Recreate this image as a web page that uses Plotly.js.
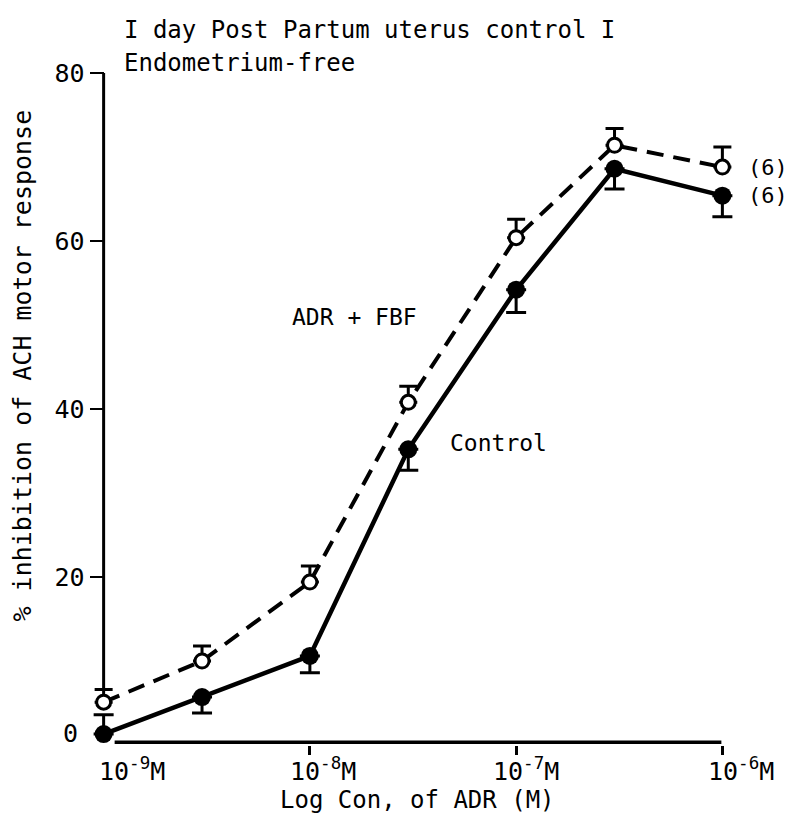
<!DOCTYPE html>
<html>
<head>
<meta charset="utf-8">
<script src="https://cdn.plot.ly/plotly-3.0.1.min.js"></script>
<style>html,body{margin:0;padding:0;background:#fff;}</style>
</head>
<body>
<div id="chart" style="width:790px;height:839px;"></div>
<script>
// Concentrations of ADR (M)
var concentrations = [1e-9, 3e-9, 1e-8, 3e-8, 1e-7, 3e-7, 1e-6];
// Control (filled circles)
var controlValues = [1.3, 5.7, 10.6, 35.2, 54.2, 68.6, 65.4];
var controlErrPlus = [2.3, 0, 0, 0, 0, 0, 0];
var controlErrMinus = [0, 1.9, 2.0, 2.5, 2.7, 2.4, 2.5];
// ADR + FBF (open circles)
var fbfValues = [5.1, 10.0, 19.4, 40.8, 60.4, 71.4, 68.8];
var fbfErrPlus = [1.5, 1.8, 1.9, 1.9, 2.2, 2.0, 2.4];
var fbfErrMinus = [0, 0, 0, 0, 0, 0, 0];
// Tick labels
var xTickExps = [-9, -8, -7, -6];
var xTickLabels = ['10<sup>-9</sup>M', '10<sup>-8</sup>M', '10<sup>-7</sup>M', '10<sup>-6</sup>M'];
var yTickVals = [20, 40, 60, 80];
var yTickLabels = ['20', '40', '60', '80'];
var yZeroLabel = '0';
var seriesLabels = ['ADR + FBF', 'Control'];
var nLabel = '(6)';
var titleLines = ['I day Post Partum uterus control I', 'Endometrium-free'];
var xTitle = 'Log Con, of ADR (M)';
var yTitle = '% inhibition of ACH motor response';

var FONT = '"DejaVu Sans Mono", "Liberation Mono", monospace';
var xLabelShift = [-7, -22, -25, -16];

var traces = [
  {
    x: concentrations, y: fbfValues, type: 'scatter', mode: 'lines+markers',
    name: seriesLabels[0], cliponaxis: false,
    line: {color: '#000', width: 4, dash: '17px,10px'},
    marker: {symbol: 'circle', size: 14, color: '#fff', line: {color: '#000', width: 3}},
    error_y: {type: 'data', symmetric: false, array: fbfErrPlus, arrayminus: fbfErrMinus,
              color: '#000', thickness: 3, width: 9}
  },
  {
    x: concentrations, y: controlValues, type: 'scatter', mode: 'lines+markers',
    name: seriesLabels[1], cliponaxis: false,
    line: {color: '#000', width: 4.5},
    marker: {symbol: 'circle', size: 18, color: '#000', line: {color: '#000', width: 0}},
    error_y: {type: 'data', symmetric: false, array: controlErrPlus, arrayminus: controlErrMinus,
              color: '#000', thickness: 3, width: 10}
  }
];

// plot area geometry: range [-9.1,-5.9], left 83.4px, width 659.2px, height 672px
var annotations = [];
xTickExps.forEach(function(e, i){
  annotations.push({
    x: e, y: 0, xref: 'x', yref: 'paper', yanchor: 'middle', xanchor: 'left',
    xshift: xLabelShift[i], yshift: -24, showarrow: false,
    text: xTickLabels[i],
    font: {family: FONT, size: 25, color: '#000'}
  });
});
annotations.push({x: 0.03125, y: 1.4, xref: 'paper', yref: 'y', xanchor: 'right', yanchor: 'middle',
  xshift: -24, showarrow: false, text: yZeroLabel, font: {family: FONT, size: 25, color: '#000'}});
annotations.push({x: -8.097, y: 50.95, xref: 'x', yref: 'y', showarrow: false,
  xanchor: 'left', yanchor: 'middle', text: seriesLabels[0], font: {family: FONT, size: 23, color: '#000'}});
annotations.push({x: -7.33, y: 35.95, xref: 'x', yref: 'y', showarrow: false,
  xanchor: 'left', yanchor: 'middle', text: seriesLabels[1], font: {family: FONT, size: 23, color: '#000'}});
annotations.push({x: -6, y: fbfValues[6], xref: 'x', yref: 'y', showarrow: false, xshift: 24,
  xanchor: 'left', yanchor: 'middle', text: nLabel, font: {family: FONT, size: 22, color: '#000'}});
annotations.push({x: -6, y: controlValues[6], xref: 'x', yref: 'y', showarrow: false, xshift: 24,
  xanchor: 'left', yanchor: 'middle', text: nLabel, font: {family: FONT, size: 22, color: '#000'}});
// titles
annotations.push({x: (122-83.4)/659.2, y: 1 + (73-30)/672, xref: 'paper', yref: 'paper', showarrow: false,
  xanchor: 'left', yanchor: 'middle', text: titleLines[0], font: {family: FONT, size: 24, color: '#000'}});
annotations.push({x: (122-83.4)/659.2, y: 1 + (73-63)/672, xref: 'paper', yref: 'paper', showarrow: false,
  xanchor: 'left', yanchor: 'middle', text: titleLines[1], font: {family: FONT, size: 24, color: '#000'}});
annotations.push({x: (417-83.4)/659.2, y: -(800-745)/672, xref: 'paper', yref: 'paper', showarrow: false,
  xanchor: 'center', yanchor: 'middle', text: xTitle, font: {family: FONT, size: 24, color: '#000'}});
annotations.push({x: (22-83.4)/659.2, y: (745-366)/672, xref: 'paper', yref: 'paper', showarrow: false,
  xanchor: 'center', yanchor: 'middle', textangle: -90, text: yTitle, font: {family: FONT, size: 25, color: '#000'}});

var layout = {
  width: 790, height: 839,
  margin: {l: 83.4, r: 47.4, t: 73, b: 94},
  paper_bgcolor: '#fff', plot_bgcolor: '#fff',
  showlegend: false,
  xaxis: {
    type: 'log', range: [-9.1, -5.9],
    showgrid: false, zeroline: false, showline: false,
    tickvals: [1e-8, 1e-7, 1e-6], showticklabels: false,
    ticks: 'outside', ticklen: 9, tickwidth: 3, tickcolor: '#000'
  },
  yaxis: {
    range: [0, 80], anchor: 'free', position: 0.03125,
    showgrid: false, zeroline: false, showline: false,
    tickvals: yTickVals, ticktext: yTickLabels, ticks: 'outside', ticklen: 14, tickwidth: 2.5, tickcolor: '#000',
    tickfont: {family: FONT, size: 25, color: '#000'}
  },
  shapes: [
    {type: 'line', xref: 'paper', yref: 'y', x0: 0.03125, x1: 0.03125, y0: 6.5, y1: 80, line: {color: '#000', width: 3}},
    {type: 'line', xref: 'paper', yref: 'paper', x0: (115-83.4)/659.2, x1: (721-83.4)/659.2, y0: 0.004, y1: 0.004, line: {color: '#000', width: 3.5}}
  ],
  annotations: annotations
};

Plotly.newPlot('chart', traces, layout, {displayModeBar: false, staticPlot: true});
</script>
</body>
</html>
